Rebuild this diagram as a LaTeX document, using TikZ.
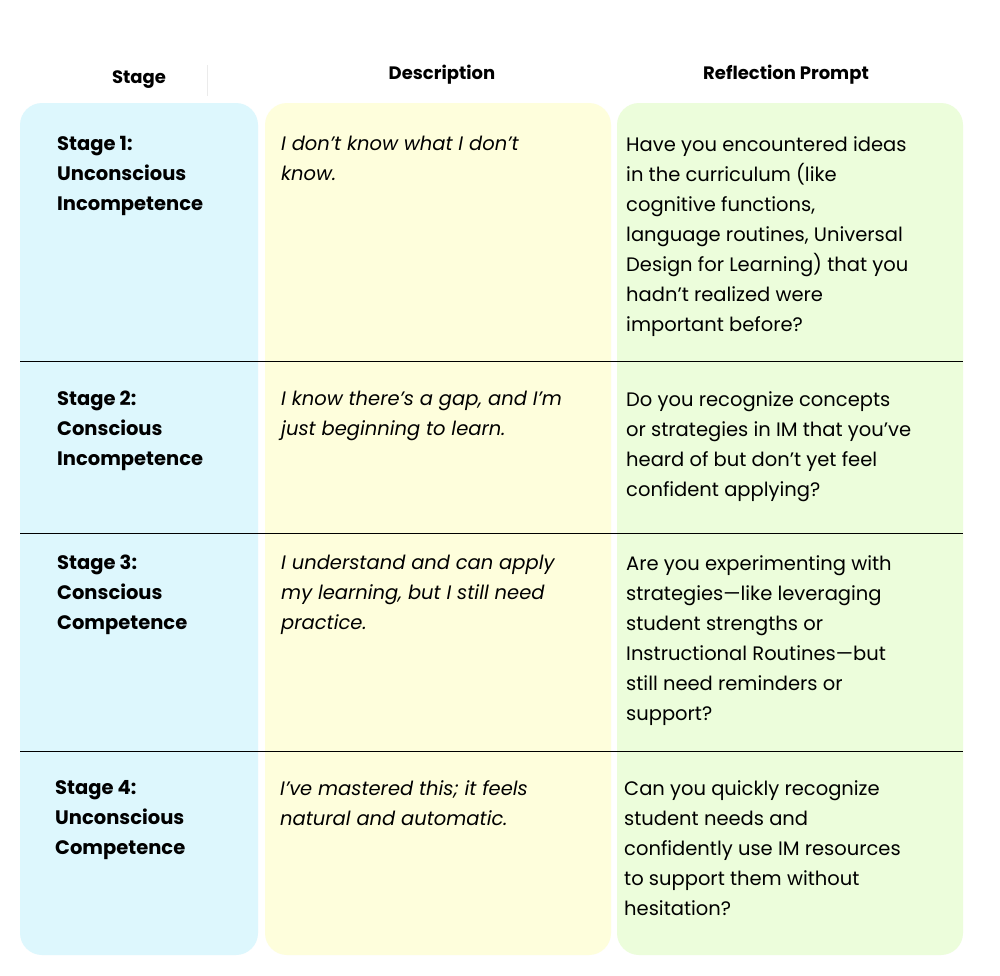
\documentclass[tikz,border=0pt]{standalone}
\usepackage{fontspec}
\setmainfont{Poppins}
\begin{document}
\begin{tikzpicture}[x=1pt,y=-1pt,
  col/.style={rounded corners=22pt},
  hdr/.style={font=\fontsize{18}{22}\selectfont\bfseries,anchor=center,inner sep=0},
  txt/.style={font=\fontsize{19.5}{30}\selectfont,anchor=north west,inner sep=0,align=left},
  stg/.style={txt,font=\fontsize{19.5}{30}\selectfont\bfseries},
  dsc/.style={txt,font=\fontsize{19.5}{30}\selectfont\itshape},
  sep/.style={line width=0.9pt,black}]
\useasboundingbox (0,0) rectangle (1000,975);
\fill[white] (0,0) rectangle (1000,975);
\fill[col,fill={rgb,255:red,221;green,247;blue,253}] (20,103) rectangle (258,955);
\fill[col,fill={rgb,255:red,254;green,254;blue,220}] (265,103) rectangle (611,955);
\fill[col,fill={rgb,255:red,236;green,253;blue,219}] (617,103) rectangle (963,955);
\draw[black!8,line width=0.8pt] (207,65) -- (207,96);
\node[hdr] (h1) at (139,80) {Stage};
\node[hdr] (h2) at (442,75) {Description};
\node[hdr] (h3) at (786,75) {Reflection Prompt};
\coordinate (l1a) at (20,361); \coordinate (l1b) at (963,361);
\coordinate (l2a) at (20,533); \coordinate (l2b) at (963,533);
\coordinate (l3a) at (20,751); \coordinate (l3b) at (963,751);
\draw[sep] (l1a) -- (l1b);
\draw[sep] (l2a) -- (l2b);
\draw[sep] (l3a) -- (l3b);
% row 1
\node[stg] (s1) at (57,136) {Stage 1:\\Unconscious\\Incompetence};
\node[dsc] (d1) at (281,136) {I don’t know what I don’t\\know.};
\node[txt] (p1) at (626,136) {Have you encountered ideas\\in the curriculum (like\\cognitive functions,\\language routines, Universal\\Design for Learning) that you\\hadn’t realized were\\important before?};
% row 2
\node[stg] (s2) at (57,391) {Stage 2:\\Conscious\\Incompetence};
\node[dsc] (d2) at (281,391) {I know there’s a gap, and I’m\\just beginning to learn.};
\node[txt] (p2) at (626,391) {Do you recognize concepts\\or strategies in IM that you’ve\\heard of but don’t yet feel\\confident applying?};
% row 3
\node[stg] (s3) at (57,555) {Stage 3:\\Conscious\\Competence};
\node[dsc] (d3) at (281,555) {I understand and can apply\\my learning, but I still need\\practice.};
\node[txt] (p3) at (626,555) {Are you experimenting with\\strategies—like leveraging\\student strengths or\\Instructional Routines—but\\still need reminders or\\support?};
% row 4
\node[stg] (s4) at (55,780) {Stage 4:\\Unconscious\\Competence};
\node[dsc] (d4) at (280,780) {I’ve mastered this; it feels\\natural and automatic.};
\node[txt] (p4) at (624,780) {Can you quickly recognize\\student needs and\\confidently use IM resources\\to support them without\\hesitation?};
\end{tikzpicture}
\end{document}
